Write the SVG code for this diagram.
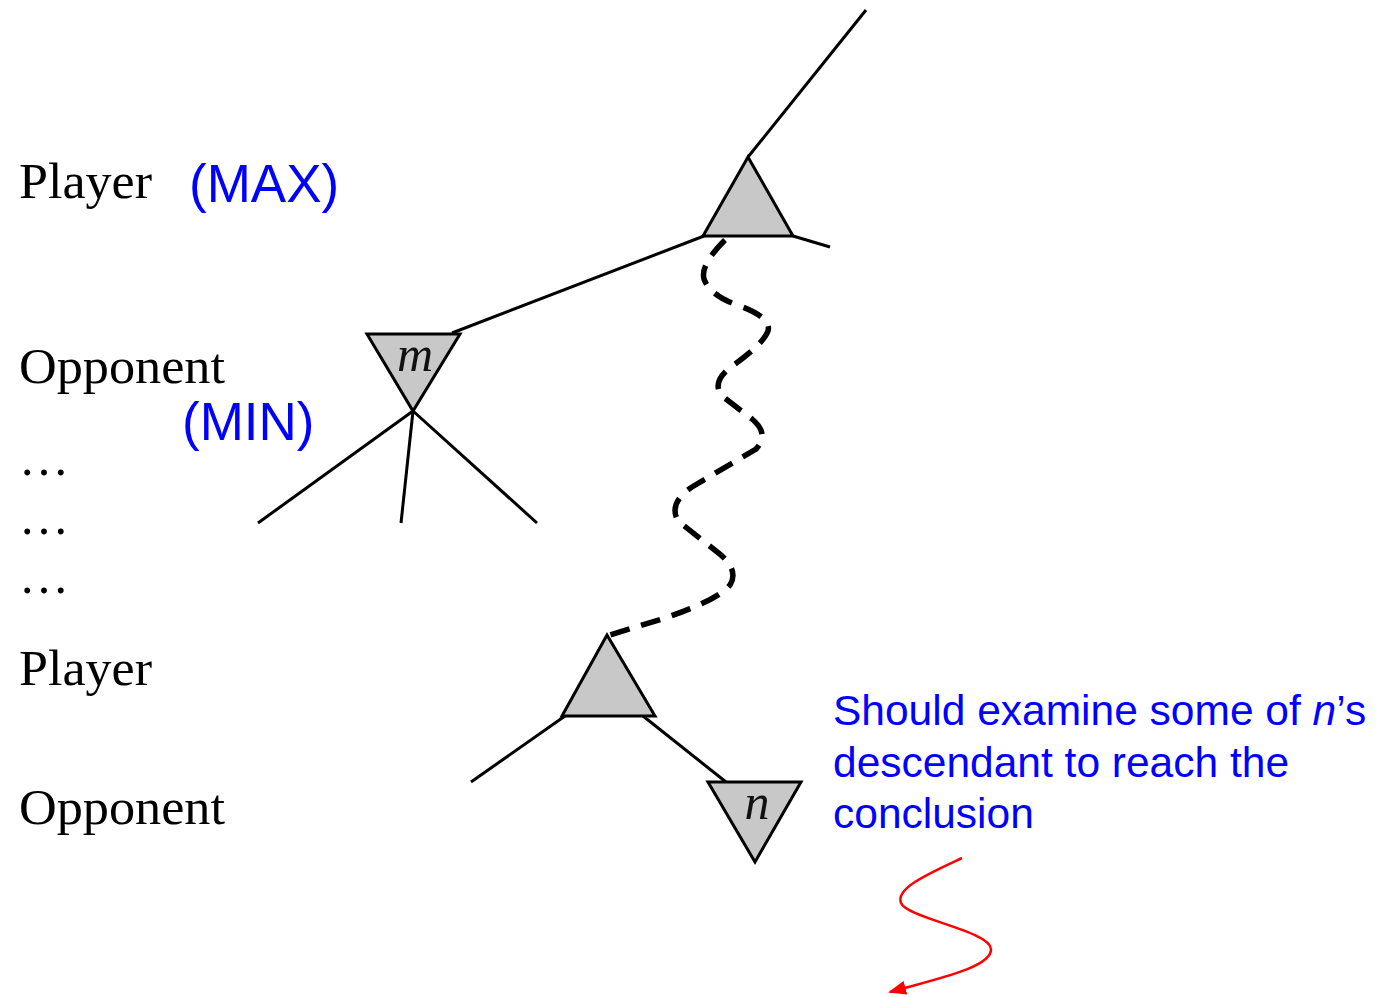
<svg xmlns="http://www.w3.org/2000/svg" width="1381" height="997" viewBox="0 0 1381 997">
<style>
.lbl{font-family:"Liberation Serif","Times New Roman",serif;font-size:50px;fill:#000}
.blue{font-family:"Liberation Sans",Arial,sans-serif;fill:#0000ff}
.tri{fill:#c8c8c8;stroke:#000;stroke-width:3;stroke-linejoin:miter}
.edge{stroke:#000;stroke-width:3;fill:none}
.nl{font-family:"Liberation Serif","Times New Roman",serif;font-style:italic;font-size:50px;fill:#111}
</style>
<defs>
<marker id="redArrow" markerWidth="18" markerHeight="14" refX="16" refY="7" orient="auto" markerUnits="userSpaceOnUse" viewBox="0 0 18 14">
<path d="M0,0 L18,7 L0,14 z" fill="#ff0000"/>
</marker>
</defs>
<rect width="1381" height="997" fill="#ffffff"/>
<g id="labels">
<text class="lbl" x="19" y="198" textLength="133" lengthAdjust="spacingAndGlyphs">Player</text>
<text class="lbl" x="19" y="383" textLength="206" lengthAdjust="spacingAndGlyphs">Opponent</text>
<text class="lbl" x="19" y="475">…</text>
<text class="lbl" x="19" y="534">…</text>
<text class="lbl" x="19" y="593">…</text>
<text class="lbl" x="19" y="685" textLength="133" lengthAdjust="spacingAndGlyphs">Player</text>
<text class="lbl" x="19" y="824" textLength="206" lengthAdjust="spacingAndGlyphs">Opponent</text>
<text class="blue" x="189" y="202" font-size="53">(MAX)</text>
<text class="blue" x="182" y="440" font-size="53">(MIN)</text>
</g>
<g id="connectors">
<line class="edge" x1="748" y1="157" x2="866" y2="10"/>
<line class="edge" x1="793" y1="236" x2="830" y2="247"/>
<line class="edge" x1="704" y1="236" x2="452" y2="333"/>
<line class="edge" x1="413" y1="411" x2="258" y2="523"/>
<line class="edge" x1="413" y1="411" x2="401" y2="523"/>
<line class="edge" x1="413" y1="411" x2="537" y2="523"/>
<line class="edge" x1="565" y1="716" x2="471" y2="782"/>
<line class="edge" x1="643" y1="716" x2="726" y2="782"/>
<path id="dashed-path" d="M725 240 Q700 265 704 279 Q710 296 740 306 Q772 318 768 331 Q763 344 735 364 Q710 381 722 396 L752 419 Q770 434 756 449 L692 487 Q668 503 678 521 L716 551 Q740 569 730 585 Q718 600 665 618 L607 636" fill="none" stroke="#000" stroke-width="5.5" stroke-dasharray="20 12"/>
<path id="red-arrow" d="M962 858 C930 873 895 888 901 903 C907 918 990 931 991 949 C992 967 940 978 890 992" fill="none" stroke="#ff0000" stroke-width="2.5" marker-end="url(#redArrow)"/>
</g>
<g id="node-max-root">
<polygon class="tri" points="748,157 703,236 793,236"/>
</g>
<g id="node-m">
<polygon class="tri" points="367,334 460,334 413,411"/>
<text class="nl" x="415" y="371" text-anchor="middle">m</text>
</g>
<g id="node-player2">
<polygon class="tri" points="607,635 562,716 655,716"/>
</g>
<g id="node-n">
<polygon class="tri" points="708,782 801,782 755,862"/>
<text class="nl" x="757" y="819" text-anchor="middle">n</text>
</g>
<g id="note">
<text class="blue" font-size="42.5" x="833" y="725">Should examine some of <tspan font-style="italic">n</tspan>’s</text>
<text class="blue" font-size="42.5" x="833" y="777">descendant to reach the</text>
<text class="blue" font-size="42.5" x="833" y="828">conclusion</text>
</g>
</svg>
